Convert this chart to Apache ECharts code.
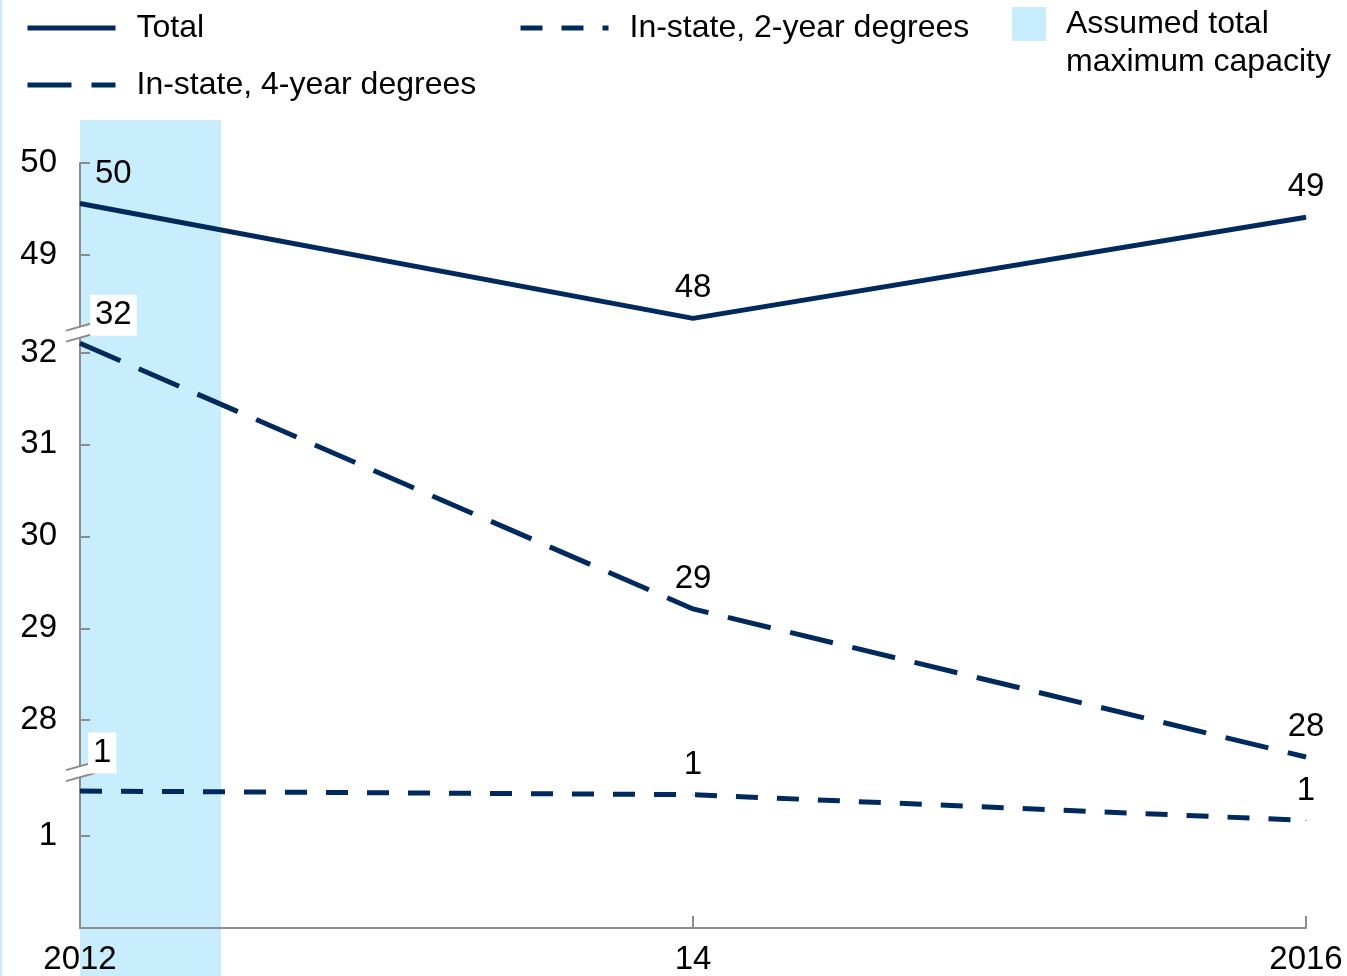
<!DOCTYPE html>
<html>
<head>
<meta charset="utf-8">
<script src="https://cdn.jsdelivr.net/npm/echarts@6/dist/echarts.min.js"></script>
<style>
  html, body { margin: 0; padding: 0; background: #fff; }
  #chart { width: 1347px; height: 976px; }
</style>
</head>
<body>
<div id="chart"></div>
<script>
// Years on the horizontal axis and how each tick is printed
const years = [2012, 2014, 2016];
const yearTickText = { 2012: '2012', 2014: '14', 2016: '2016' };

// Series values
const seriesNames = ['Total', 'In-state, 4-year degrees', 'In-state, 2-year degrees'];
const totalValues = [49.56, 48.31, 49.41];
const fourYearValues = [32.10, 29.21, 27.60];
const twoYearValues = [1.49, 1.45, 1.17];

// Vertical axis: printed ticks and the two breaks in the scale
const yTickValues = [1, 28, 29, 30, 31, 32, 49, 50];
const yBreaks = [[1.70, 27.44], [32.22, 48.16]];

// Shaded capacity window (years)
const capacityName = 'Assumed total maximum capacity';
const capacityLegendText = '\nAssumed total\nmaximum capacity';
const capacityRange = [2012, 2012.46];

const NAVY = '#002a5e';
const BAND = '#c8eefd';
const GRAY = '#8c8c8c';
const FONT = '"Liberation Sans", Arial, sans-serif';
const LABEL_SIZE = 33;

const chart = echarts.init(document.getElementById('chart'), null, { renderer: 'canvas' });

function lineSeries(name, values, dash, firstLabel) {
  return {
    name: name,
    type: 'line',
    z: 4,
    animation: false,
    symbol: 'circle',
    symbolSize: 1,
    itemStyle: { color: NAVY },
    lineStyle: { color: NAVY, width: 5, type: dash },
    emphasis: { disabled: true },
    label: {
      show: true,
      position: 'top',
      distance: 13,
      fontSize: LABEL_SIZE,
      lineHeight: LABEL_SIZE,
      fontFamily: FONT,
      color: '#000',
      formatter: p => String(Math.round(p.value[1]))
    },
    data: years.map((yr, i) => {
      const item = { value: [yr, values[i]] };
      if (i === 0) item.label = firstLabel;
      return item;
    })
  };
}

const legendText = {
  fontSize: 32,
  lineHeight: 32,
  fontFamily: FONT,
  color: '#000',
  padding: [0, 0, 0, 16]
};

const option = {
  backgroundColor: '#fff',
  animation: false,
  grid: { left: 80, right: 41, top: 163, bottom: 48, containLabel: false },
  legend: [
    {
      orient: 'vertical', left: 25, top: 12, padding: 0,
      itemWidth: 88, itemHeight: 2, itemGap: 25,
      selectedMode: false,
      itemStyle: { opacity: 0 },
      lineStyle: { width: 5 },
      textStyle: legendText,
      data: [seriesNames[0], seriesNames[1]]
    },
    {
      orient: 'vertical', left: 518, top: 12, padding: 0,
      itemWidth: 88, itemHeight: 2, itemGap: 25,
      selectedMode: false,
      itemStyle: { opacity: 0 },
      lineStyle: { width: 5 },
      textStyle: legendText,
      data: [seriesNames[2]]
    },
    {
      orient: 'vertical', left: 1012, top: -34, padding: 0,
      itemWidth: 34, itemHeight: 34,
      selectedMode: false,
      formatter: () => capacityLegendText,
      textStyle: {
        fontSize: 32, lineHeight: 38, fontFamily: FONT, color: '#000',
        padding: [2, 0, 0, 15]
      },
      data: [{ name: capacityName, icon: 'rect' }]
    }
  ],
  xAxis: {
    type: 'value',
    min: years[0],
    max: years[years.length - 1],
    interval: 2,
    axisLine: { show: true, lineStyle: { color: GRAY, width: 2 } },
    axisTick: { show: true, inside: true, length: 12, lineStyle: { color: GRAY, width: 2 } },
    axisLabel: {
      margin: 15, fontSize: LABEL_SIZE, fontFamily: FONT, color: '#000',
      formatter: v => yearTickText[v] || ''
    },
    splitLine: { show: false }
  },
  yAxis: {
    type: 'value',
    min: 0,
    max: 50,
    breaks: yBreaks.map(([s, e]) => ({ start: s, end: e, gap: 0 })),
    breakArea: { show: false },
    axisLine: { show: true, lineStyle: { color: GRAY, width: 2 } },
    axisTick: {
      show: true, inside: true, length: 10,
      lineStyle: { color: GRAY, width: 2 },
      customValues: yTickValues
    },
    axisLabel: {
      margin: 23, fontSize: LABEL_SIZE, fontFamily: FONT, color: '#000',
      padding: [4, 0, 0, 0],
      customValues: yTickValues
    },
    splitLine: { show: false }
  },
  series: [
    lineSeries(seriesNames[0], totalValues, 'solid',
      { align: 'left', offset: [15, 0] }),
    lineSeries(seriesNames[1], fourYearValues, [44, 20],
      { align: 'left', offset: [10, 6], backgroundColor: '#fff', padding: [4, 5] }),
    lineSeries(seriesNames[2], twoYearValues, [22, 19],
      { align: 'left', offset: [8, -4], backgroundColor: '#fff', padding: [4, 5] }),
    {
      name: capacityName,
      type: 'line',
      data: [],
      itemStyle: { color: BAND },
      lineStyle: { color: BAND }
    }
  ]
};

chart.setOption(option);

// Shaded capacity window and the axis break marks, placed through the axes
const bandLeft = chart.convertToPixel({ xAxisIndex: 0 }, capacityRange[0]);
const bandRight = chart.convertToPixel({ xAxisIndex: 0 }, capacityRange[1]);
const axisX = chart.convertToPixel({ xAxisIndex: 0 }, years[0]);

const graphics = [
  {
    type: 'rect', silent: true, z: -10,
    shape: { x: 0, y: 0, width: 2, height: 976 },
    style: { fill: BAND }
  },
  {
    type: 'rect', silent: true, z: -10,
    shape: { x: bandLeft, y: 120, width: bandRight - bandLeft, height: 976 - 120 },
    style: { fill: BAND }
  }
];

yBreaks.forEach(([s]) => {
  const yb = chart.convertToPixel({ yAxisIndex: 0 }, s);
  const x0 = axisX - 14, x1 = axisX + 15;
  const k = 0.28;
  const upper = [[x0, yb - 5.5 + 14 * k], [x1, yb - 5.5 - 15 * k]];
  const lower = [[x0, yb + 5.5 + 14 * k], [x1, yb + 5.5 - 15 * k]];
  graphics.push({
    type: 'polygon', silent: true, z: 3,
    shape: { points: [upper[0], upper[1], lower[1], lower[0]] },
    style: { fill: '#fff' }
  });
  [upper, lower].forEach(seg => graphics.push({
    type: 'line', silent: true, z: 3,
    shape: { x1: seg[0][0], y1: seg[0][1], x2: seg[1][0], y2: seg[1][1] },
    style: { stroke: GRAY, lineWidth: 2 }
  }));
});

chart.setOption({ graphic: graphics });
</script>
</body>
</html>
